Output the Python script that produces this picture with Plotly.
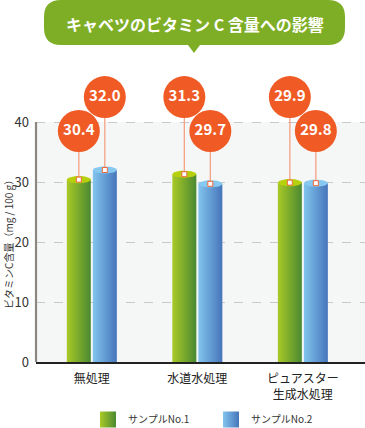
import plotly.graph_objects as go
import numpy as np

# ---------------- data ----------------
categories = ["無処理", "水道水処理", "ピュアスター<br>生成水処理"]
series_names = ["サンプルNo.1", "サンプルNo.2"]
sample1 = [30.4, 31.3, 29.9]
sample2 = [32.0, 29.7, 29.8]
y_ticks = [0, 10, 20, 30, 40]
title_text = "キャベツのビタミン C 含量への影響"
y_title = "ビタミンC含量（mg / 100 g）"

# ---------------- layout geometry ----------------
W, H = 365, 428
ML, MR, MT, MB = 36, 0, 74, 66
PW, PH = W - ML - MR, H - MT - MB
YMAX = 48
XR = [-0.529, 2.589]
upx = PW / (XR[1] - XR[0])
upy = PH / YMAX
FONT = "Noto Sans CJK JP"


def paper_x(X):
    return (X - ML) / PW


def paper_y(Y):
    return (H - MB - Y) / PH


styles = [
    dict(light="#a9c926", dark="#4a8932", top="#b7d00e"),
    dict(light="#82c5ee", dark="#4675ba", top="#86c8ef"),
]
offsets = [-13 / upx, 13 / upx]
half_w = 12 / upx
ell_h = 3.6 / upy

fig = go.Figure()
series = [sample1, sample2]

# bar bodies with horizontal gradient
for s, vals in enumerate(series):
    st = styles[s]
    for i, v in enumerate(vals):
        c = i + offsets[s]
        fig.add_trace(go.Scatter(
            x=[c - half_w, c + half_w, c + half_w, c - half_w, c - half_w],
            y=[0, 0, v, v, 0],
            mode="lines", line=dict(width=0),
            fill="toself",
            fillgradient=dict(type="horizontal",
                              colorscale=[[0, st["light"]], [1, st["dark"]]]),
            name=series_names[s], legendgroup=series_names[s],
            showlegend=False, hoverinfo="skip",
        ))

# elliptical tops
t = np.linspace(0, 2 * np.pi, 40)
for s, vals in enumerate(series):
    xs, ys = [], []
    for i, v in enumerate(vals):
        c = i + offsets[s]
        xs += list(c + half_w * np.cos(t)) + [None]
        ys += list(v + ell_h * np.sin(t)) + [None]
    fig.add_trace(go.Scatter(x=xs, y=ys, mode="lines", line=dict(width=0),
                             fill="toself", fillcolor=styles[s]["top"],
                             showlegend=False, hoverinfo="skip"))

# value labels (higher value of each pair gets the upper bubble)
HIGH, LOW = 44.15, 38.5
for s, vals in enumerate(series):
    lx, ly, cx, cy, txt = [], [], [], [], []
    for i, v in enumerate(vals):
        pair = [sample1[i], sample2[i]]
        lvl = HIGH if v == max(pair) else LOW
        c = i + offsets[s]
        lx += [c, c, None]
        ly += [lvl, v, None]
        cx.append(c)
        cy.append(lvl)
        txt.append(f"{v:.1f}")
    fig.add_trace(go.Scatter(x=lx, y=ly, mode="lines",
                             line=dict(color="#f4a184", width=1.3),
                             showlegend=False, hoverinfo="skip"))
    fig.add_trace(go.Scatter(x=cx, y=vals, mode="markers",
                             marker=dict(symbol="square", size=5, color="white",
                                         line=dict(color="#f0663a", width=1)),
                             showlegend=False, hoverinfo="skip"))
    fig.add_trace(go.Scatter(x=cx, y=cy, mode="markers+text", text=txt,
                             textposition="middle center",
                             textfont=dict(family=FONT, size=15, color="white", weight="bold"),
                             marker=dict(size=42, color="#f05a24"),
                             cliponaxis=False, showlegend=False, hoverinfo="skip"))

# legend entries (gradient squares)
for s in range(2):
    fig.add_trace(go.Scatter(
        x=[None], y=[None], mode="markers", name=series_names[s],
        marker=dict(symbol="square", size=16, color=styles[s]["light"],
                    gradient=dict(type="horizontal", color=styles[s]["dark"]),
                    line=dict(width=0)),
        showlegend=True, hoverinfo="skip"))

# ---------------- shapes ----------------
shapes = [
    dict(type="rect", xref="paper", yref="y", x0=0, x1=1, y0=0, y1=40,
         fillcolor="#f5f7f6", line=dict(width=0), layer="below"),
    dict(type="line", xref="paper", yref="y", x0=0, x1=0, y0=0, y1=40,
         line=dict(color="#8b8783", width=2.2), layer="above"),
]

# title bubble
x0, x1, y0, y1, r = 44, 345, 0, 45, 17
pts = lambda X, Y: f"{paper_x(X):.5f},{paper_y(Y):.5f}"
path = (f"M{pts(x0 + r, y0)} L{pts(x1 - r, y0)} Q{pts(x1, y0)} {pts(x1, y0 + r)} "
        f"L{pts(x1, y1 - r)} Q{pts(x1, y1)} {pts(x1 - r, y1)} "
        f"L{pts(200, y1)} L{pts(194, 53)} L{pts(188, y1)} "
        f"L{pts(x0 + r, y1)} Q{pts(x0, y1)} {pts(x0, y1 - r)} "
        f"L{pts(x0, y0 + r)} Q{pts(x0, y0)} {pts(x0 + r, y0)} Z")
shapes.append(dict(type="path", xref="paper", yref="paper", path=path,
                   fillcolor="#7eae25", line=dict(width=0), layer="above"))

annotations = [
    dict(text=title_text, xref="paper", yref="paper", x=paper_x(194.5), y=paper_y(24),
         showarrow=False, xanchor="center", yanchor="middle",
         font=dict(family=FONT, size=16, color="white", weight="bold")),
    dict(text=y_title, xref="paper", yref="y", x=paper_x(8), y=20, textangle=-90,
         showarrow=False, xanchor="center", yanchor="middle",
         font=dict(family=FONT, size=10, color="#333333")),
]

fig.update_layout(
    width=W, height=H,
    margin=dict(l=ML, r=MR, t=MT, b=MB, autoexpand=False),
    paper_bgcolor="white", plot_bgcolor="white",
    font=dict(family=FONT, color="#333333"),
    shapes=shapes, annotations=annotations,
    legend=dict(orientation="h", x=paper_x(88), xanchor="left",
                y=paper_y(419.5), yanchor="middle",
                font=dict(family=FONT, size=10, color="#333333"),
                itemwidth=30, traceorder="normal",
                entrywidth=78, entrywidthmode="pixels"),
    xaxis=dict(range=XR, tickvals=list(range(len(categories))), ticktext=categories,
               showline=True, linecolor="#222222", linewidth=1.5,
               showgrid=False, zeroline=False, ticks="",
               ticklabelstandoff=5,
               tickfont=dict(family=FONT, size=12, color="#222222"),
               fixedrange=True),
    yaxis=dict(range=[0, YMAX], tickvals=y_ticks, showgrid=True,
               gridcolor="#c9c9c9", griddash="dash", gridwidth=1,
               zeroline=False, showline=False, ticks="",
               ticklabelstandoff=6,
               tickfont=dict(family=FONT, size=13, color="#333333"),
               fixedrange=True),
)

fig.write_html("out.html", config={"displayModeBar": False},
               post_script="document.body.style.margin='0';")
